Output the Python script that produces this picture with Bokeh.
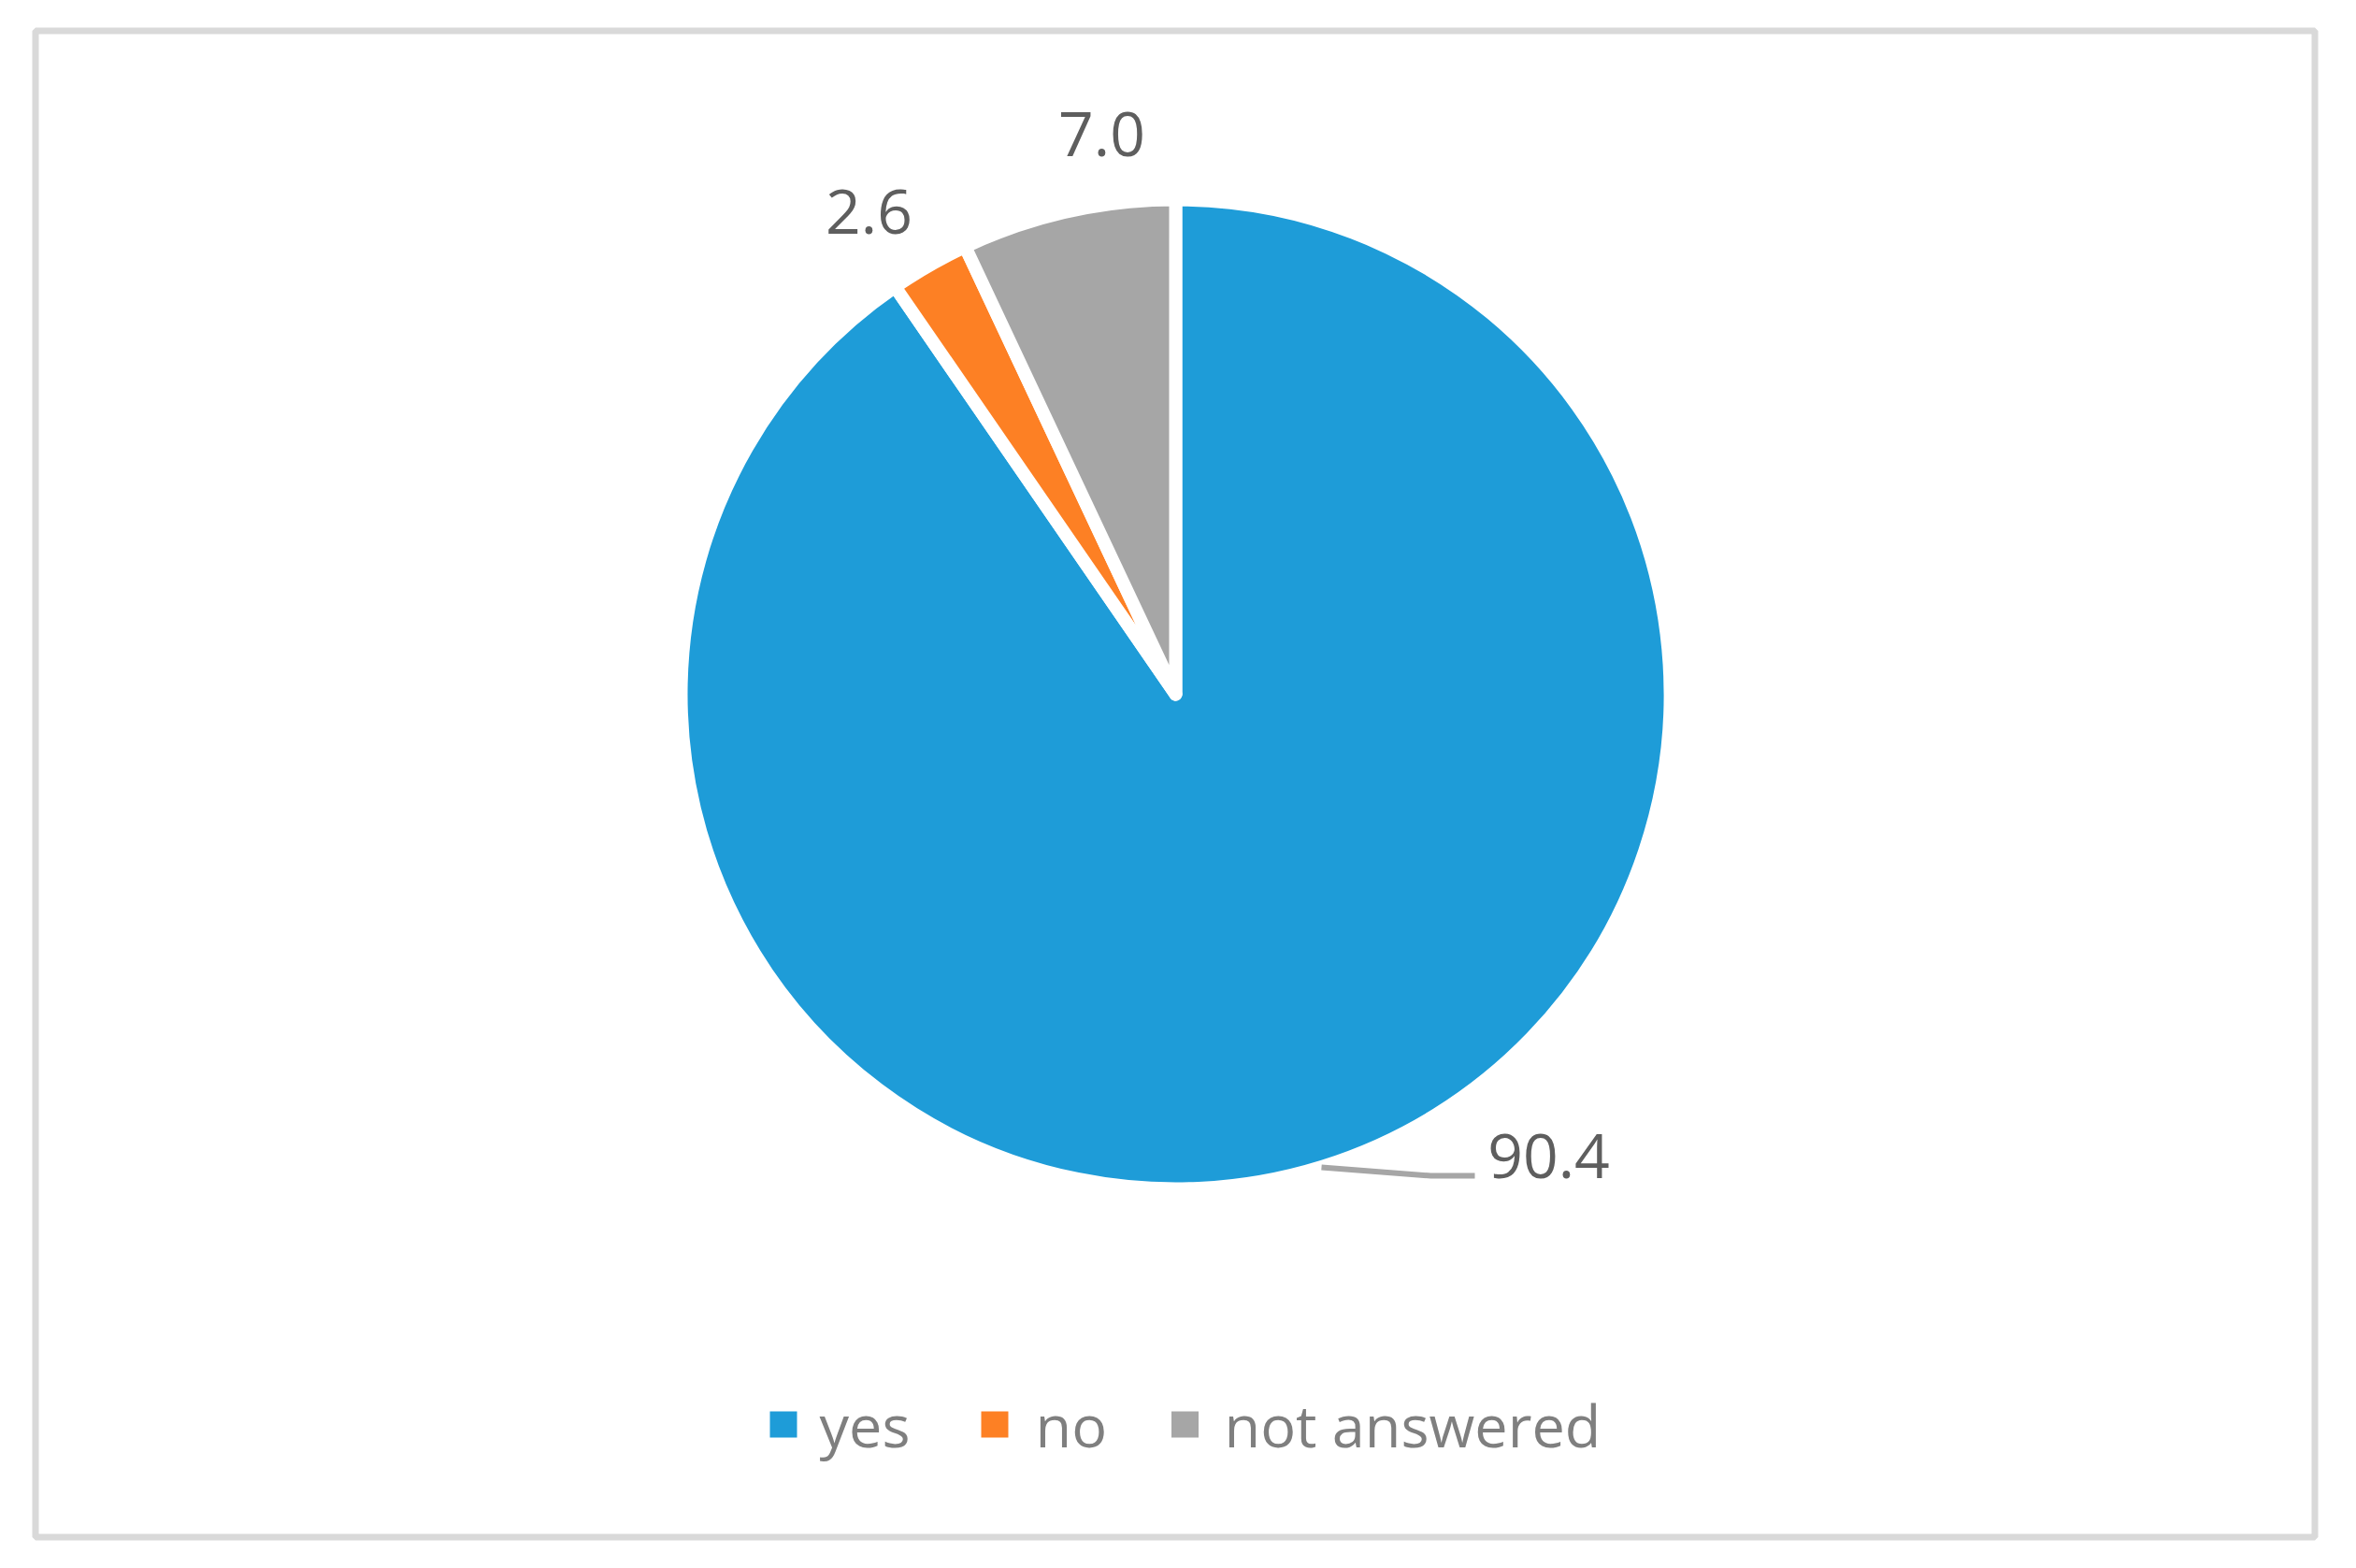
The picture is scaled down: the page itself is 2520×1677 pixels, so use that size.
import math
from bokeh.plotting import figure
from bokeh.models import Range1d, ColumnDataSource
from bokeh.core.properties import value
from bokeh.embed import file_html
from bokeh.resources import INLINE

categories = ["yes", "no", "not answered"]
values = [90.4, 2.6, 7.0]
labels = ["90.4", "2.6", "7.0"]
colors = ["#1E9CD8", "#FD8024", "#A6A6A6"]

W, H = 2504, 1661
p = figure(width=W, height=H, min_border=0,
           x_range=Range1d(0, W), y_range=Range1d(0, H),
           x_axis_type=None, y_axis_type=None, toolbar_location=None,
           output_backend="svg", background_fill_color="white", border_fill_color="white")
p.grid.visible = False
p.outline_line_color = None

# chart border
p.rect(x=[1256.5], y=[823], width=2438, height=1611, fill_color=None,
       line_color="#D9D9D9", line_width=7)

cx, cy, R = 1257, 919, 529
total = sum(values)
starts, ends = [], []
a = math.pi / 2
for v in values:
    starts.append(a)
    a = a - v / total * 2 * math.pi
    ends.append(a)
src = ColumnDataSource(dict(start=starts, end=ends, color=colors, cat=categories))
p.wedge(x=cx, y=cy, radius=R, start_angle="start", end_angle="end", direction="clock",
        fill_color="color", line_color="white", line_width=14, line_join="round", source=src)

TEXT_DY = 22  # baseline correction for text rendering

# data labels (layout offsets from pie center)
label_offsets = [(399, -516), (-328, 494), (-79, 577)]
lx = [cx + dx for dx, dy in label_offsets]
ly = [cy + dy + TEXT_DY for dx, dy in label_offsets]
p.text(x=lx, y=ly, text=labels, text_align="center", text_baseline="alphabetic",
       text_font=value("Open Sans"), text_font_size="66px", text_color="#5E5E5E")
# leader line for the big slice
p.line(x=[cx + 156, cx + 273, cx + 320], y=[cy - 506, cy - 515, cy - 515],
       line_color="#A6A6A6", line_width=6)

# legend
sq_x = [837.5, 1063.5, 1267]
tx_x = [876, 1107, 1309]
p.rect(x=sq_x, y=[138] * 3, width=29, height=28, fill_color=colors, line_color=None)
p.text(x=tx_x, y=[116 + TEXT_DY] * 3, text=categories, text_align="left",
       text_baseline="alphabetic", text_font=value("Open Sans"),
       text_font_size="63px", text_color="#7F7F7F")

open("out.html", "w").write(file_html(p, INLINE))
